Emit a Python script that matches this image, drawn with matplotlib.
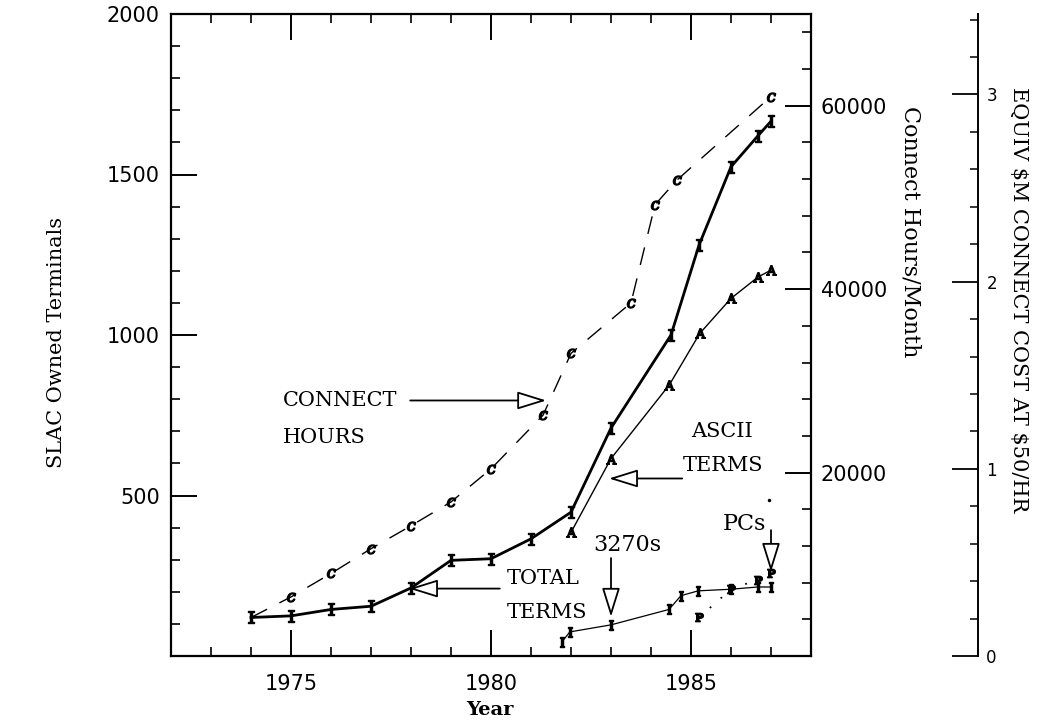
import matplotlib.pyplot as plt
from matplotlib.ticker import MultipleLocator, FixedLocator

plt.rcParams['mathtext.fontset'] = 'dejavuserif'

# SLAC owned terminals, total
total_years = [1974, 1975, 1976, 1977, 1978, 1979, 1980, 1981, 1982, 1983,
               1984.5, 1985.2, 1986.0, 1986.67, 1987.0]
total_terms = [120, 125, 145, 155, 212, 298, 303, 365, 448, 710,
               1000, 1280, 1524, 1620, 1666]

# ASCII terminals
ascii_years = [1982.0, 1983.0, 1984.46, 1985.22, 1986.0, 1986.68, 1987.0]
ascii_terms = [385, 615, 845, 1005, 1114, 1181, 1202]

# 3270s
ibm_years = [1981.78, 1981.97, 1983.0, 1984.45, 1984.75, 1985.18, 1986.0, 1986.67, 1987.0]
ibm_terms = [45, 75, 97, 145, 188, 203, 208, 215, 215]

# PCs
pc_years = [1985.2, 1986.0, 1986.67, 1987.0]
pc_terms = [120, 208, 238, 258]
pc_extra_year = [1986.96]
pc_extra_terms = [486]

# connect hours / month
conn_years = [1974.0, 1975.0, 1976.0, 1977.0, 1978.0, 1979.0, 1980.0, 1981.3,
              1982.0, 1983.5, 1984.1, 1984.65, 1987.0]
conn_hours = [4200, 6440, 9000, 11700, 14200, 16800, 20400, 26250,
              33000, 38500, 49200, 51900, 61000]

W, H = 1038, 722
fig = plt.figure(figsize=(W / 100, H / 100), dpi=100)
ax = fig.add_axes([171 / W, 66 / H, 640 / W, 642 / H])

serif = 'DejaVu Serif'
tick_font = 15

ax.set_xlim(1972, 1988)
ax.set_ylim(0, 2000)
ax.xaxis.set_major_locator(MultipleLocator(5))
ax.xaxis.set_minor_locator(MultipleLocator(1))
ax.yaxis.set_major_locator(FixedLocator([500, 1000, 1500, 2000]))
ax.yaxis.set_minor_locator(MultipleLocator(100))
ax.tick_params(which='both', direction='in', top=True, right=False,
               labelsize=tick_font)
ax.tick_params(which='major', length=19, width=1.4)
ax.tick_params(which='minor', length=6.5, width=1.2)
ax.tick_params(axis='x', pad=13)
ax.tick_params(axis='y', pad=8)
for s in ax.spines.values():
    s.set_linewidth(1.6)

# connect hours axis
ax2 = ax.twinx()
ax2.set_ylim(0, 70000)
ax2.yaxis.set_major_locator(FixedLocator([20000, 40000, 60000]))
ax2.yaxis.set_minor_locator(MultipleLocator(4000))
ax2.tick_params(which='both', direction='in', labelsize=tick_font, pad=7)
ax2.tick_params(which='major', length=19, width=1.4)
ax2.tick_params(which='minor', length=6.5, width=1.2)
for s in ax2.spines.values():
    s.set_visible(False)

# equivalent cost axis
ax3 = ax.twinx()
ax3.spines['right'].set_position(('axes', (978 - 171) / 640))
for k in ['top', 'bottom', 'left']:
    ax3.spines[k].set_visible(False)
ax3.spines['right'].set_linewidth(1.4)
ax3.set_ylim(0, 3.43)
ax3.yaxis.set_major_locator(FixedLocator([0, 1, 2, 3]))
ax3.yaxis.set_minor_locator(MultipleLocator(0.2))
ax3.tick_params(which='both', direction='in', labelsize=12, pad=6)
ax3.tick_params(which='major', length=19, width=1.3)
ax3.tick_params(which='minor', length=6, width=1.1)

# series
ax.plot(total_years, total_terms, color='black', lw=2.0,
        marker=r'$\mathbf{I}$', ms=8)
ax.plot(ascii_years, ascii_terms, color='black', lw=1.0,
        marker=r'$\mathrm{A}$', ms=7)
ax.plot(ibm_years, ibm_terms, color='black', lw=0.9,
        marker=r'$\mathrm{I}$', ms=7)
ax.plot(pc_years, pc_terms, color='black', lw=1.3, linestyle=(0, (1, 7)))
ax.plot(pc_years, pc_terms, color='black', linestyle='none',
        marker=r'$\mathbf{P}$', ms=6)
ax.plot(pc_extra_year, pc_extra_terms, color='black', linestyle='none',
        marker='.', ms=3)

ax2.plot(conn_years, conn_hours, color='black', lw=1.0, dashes=(13, 10))
ax2.plot(conn_years[1:], conn_hours[1:], color='black', linestyle='none',
         marker=r'$c$', ms=6.5)

# annotations
txt = dict(fontsize=15, family=serif, color='black', va='center')
ax.text(1974.8, 795, 'CONNECT', **txt)
ax.text(1974.8, 682, 'HOURS', **txt)
ax.text(1980.4, 240, 'TOTAL', **txt)
ax.text(1980.4, 135, 'TERMS', **txt)
ax.text(1985.0, 698, 'ASCII', **txt)
ax.text(1984.8, 595, 'TERMS', **txt)
ax.text(1982.55, 346, '3270s', fontsize=16, family=serif, va='center')
ax.text(1985.8, 410, 'PCs', fontsize=16, family=serif, va='center')

arw = dict(arrowstyle='-|>,head_length=0.9,head_width=0.28', fc='white',
           ec='black', lw=1.3, mutation_scale=20, shrinkA=0, shrinkB=0)
ax.annotate('', xy=(1981.38, 796), xytext=(1977.98, 796), arrowprops=arw)
ax.annotate('', xy=(1977.95, 210), xytext=(1980.22, 210), arrowprops=arw)
ax.annotate('', xy=(1982.95, 553), xytext=(1984.78, 553), arrowprops=arw)
ax.annotate('', xy=(1983.0, 122), xytext=(1983.0, 305), arrowprops=arw)
ax.annotate('', xy=(1987.0, 262), xytext=(1987.0, 392), arrowprops=arw)

# axis titles
fig.text(57 / W, 1 - 342 / H, 'SLAC Owned Terminals', rotation=90,
         ha='center', va='center', fontsize=15, family=serif)
fig.text(911 / W, 1 - 232 / H, 'Connect Hours/Month', rotation=270,
         ha='center', va='center', fontsize=16, family=serif)
fig.text(1018 / W, 1 - 300 / H, r'EQUIV \$M CONNECT COST AT \$50/HR',
         rotation=270, ha='center', va='center', fontsize=15, family=serif)
fig.text(490 / W, 1 - 710 / H, 'Year', ha='center', va='center',
         fontsize=14, family=serif, fontweight='bold')

fig.savefig('out.png', dpi=100)
